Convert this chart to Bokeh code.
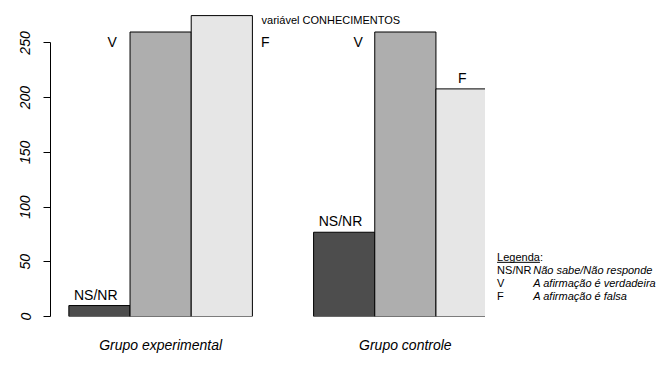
from bokeh.plotting import figure
from bokeh.layouts import row
from bokeh.models import Range1d, FixedTicker, Label, ColumnDataSource
from bokeh.core.properties import value
from bokeh.embed import file_html
from bokeh.resources import INLINE

# ---- data ----
groups = ["Grupo experimental", "Grupo controle"]
categories = ["NS/NR", "V", "F"]
exp_values = [10, 260, 275]
ctrl_values = [77, 260, 208]
bar_colors = ["#4D4D4D", "#AEAEAE", "#E6E6E6"]
y_ticks = [0, 50, 100, 150, 200, 250]
title_text = "variável CONHECIMENTOS"
legend_title = "Legenda"
legend_keys = ["NS/NR", "V", "F"]
legend_desc = ["Não sabe/Não responde", "A afirmação é verdadeira", "A afirmação é falsa"]

# label placement (layout, not data)
label_dx = [[-0.06, -0.79, 0.71], [-0.06, -0.77, -0.07]]
FONT = "Liberation Sans"

X0, X1 = -0.3, 6.81
FRAME_W, FRAME_H = 435, 302
LEFT, TOP, H = 50, 14, 371
BOTTOM = H - TOP - FRAME_H
RIGHT_W = 658 - LEFT - FRAME_W
PX_PER_UNIT = FRAME_W / (X1 - X0)
yr = Range1d(0, 276)

p = figure(width=LEFT + FRAME_W, height=H, x_range=Range1d(X0, X1), y_range=yr,
           output_backend="svg", toolbar_location=None,
           min_border_left=LEFT, min_border_right=0, min_border_top=TOP, min_border_bottom=BOTTOM)
p.outline_line_color = None
p.xgrid.visible = False
p.ygrid.visible = False
p.background_fill_color = "white"
p.border_fill_color = "white"

left, right, top, color = [], [], [], []
lx, ly, lt = [], [], []
for g, vals in enumerate([exp_values, ctrl_values]):
    for i, v in enumerate(vals):
        x0 = 4 * g + i
        left.append(x0)
        right.append(x0 + 1)
        top.append(v)
        color.append(bar_colors[i])
        lx.append(x0 + 0.5 + label_dx[g][i])
        ly.append(min(v + 10, 251))
        lt.append(categories[i])

src = ColumnDataSource(dict(left=left, right=right, top=top, color=color))
p.quad(left="left", right="right", bottom=0, top="top", fill_color="color",
       line_color="black", line_width=1, source=src)

lsrc = ColumnDataSource(dict(x=lx, y=ly, text=lt))
p.text(x="x", y="y", text="text", source=lsrc, text_align="center", text_baseline="middle",
       text_font=value(FONT), text_font_size="14px", text_color="black")

# y axis
ya = p.yaxis[0]
ya.ticker = FixedTicker(ticks=y_ticks)
ya.bounds = (0, 250)
ya.major_label_orientation = "vertical"
ya.major_label_text_font = FONT
ya.major_label_text_font_size = "14px"
ya.major_label_text_font_style = "italic"
ya.major_label_text_color = "black"
ya.major_tick_out = 7
ya.major_tick_in = 0
ya.minor_tick_line_color = None
ya.axis_line_color = "black"
ya.major_tick_line_color = "black"
ya.major_label_standoff = 13

# x axis: group names at group centres
xa = p.xaxis[0]
centers = [4 * g + 1.5 for g in range(len(groups))]
xa.ticker = FixedTicker(ticks=centers)
xa.major_label_overrides = {c: name for c, name in zip(centers, groups)}
xa.axis_line_color = None
xa.major_tick_line_color = None
xa.minor_tick_line_color = None
xa.major_tick_out = 0
xa.major_label_text_font = FONT
xa.major_label_text_font_size = "14px"
xa.major_label_text_font_style = "italic"
xa.major_label_text_color = "black"
xa.major_label_standoff = 20

# title text
p.add_layout(Label(x=3.15, y=271.4, text=title_text, text_font=FONT, text_font_size="11px",
                   text_baseline="middle", text_align="left", text_color="black"))

# legend panel (continuation of the same x scale, to the right of the clipped plot region)
p2 = figure(width=RIGHT_W, height=H, x_range=Range1d(X1, X1 + RIGHT_W / PX_PER_UNIT), y_range=yr,
            output_backend="svg", toolbar_location=None,
            min_border_left=0, min_border_right=0, min_border_top=TOP, min_border_bottom=BOTTOM,
            x_axis_location=None, y_axis_location=None)
p2.outline_line_color = None
p2.xgrid.visible = False
p2.ygrid.visible = False
p2.border_fill_color = "white"

leg_x, leg_x2 = 7.0, 7.59
leg_y0, step = 54.5, 11.9
p2.text(x=[leg_x], y=[leg_y0], text=[legend_title + ":"], text_font=value(FONT),
        text_font_size="11px", text_baseline="middle", text_color="black")
p2.line(x=[leg_x, leg_x + 0.70], y=[leg_y0 - 5.0, leg_y0 - 5.0], line_color="black", line_width=1)
ky = [leg_y0 - step * (k + 1) for k in range(len(legend_keys))]
p2.text(x=[leg_x] * len(legend_keys), y=ky, text=legend_keys, text_font=value(FONT),
        text_font_size="11px", text_baseline="middle", text_color="black")
p2.text(x=[leg_x2] * len(legend_desc), y=ky, text=legend_desc, text_font=value(FONT),
        text_font_size="11px", text_font_style="italic", text_baseline="middle", text_color="black")

layout = row(p, p2, spacing=0)
open("out.html", "w").write(file_html(layout, INLINE))
